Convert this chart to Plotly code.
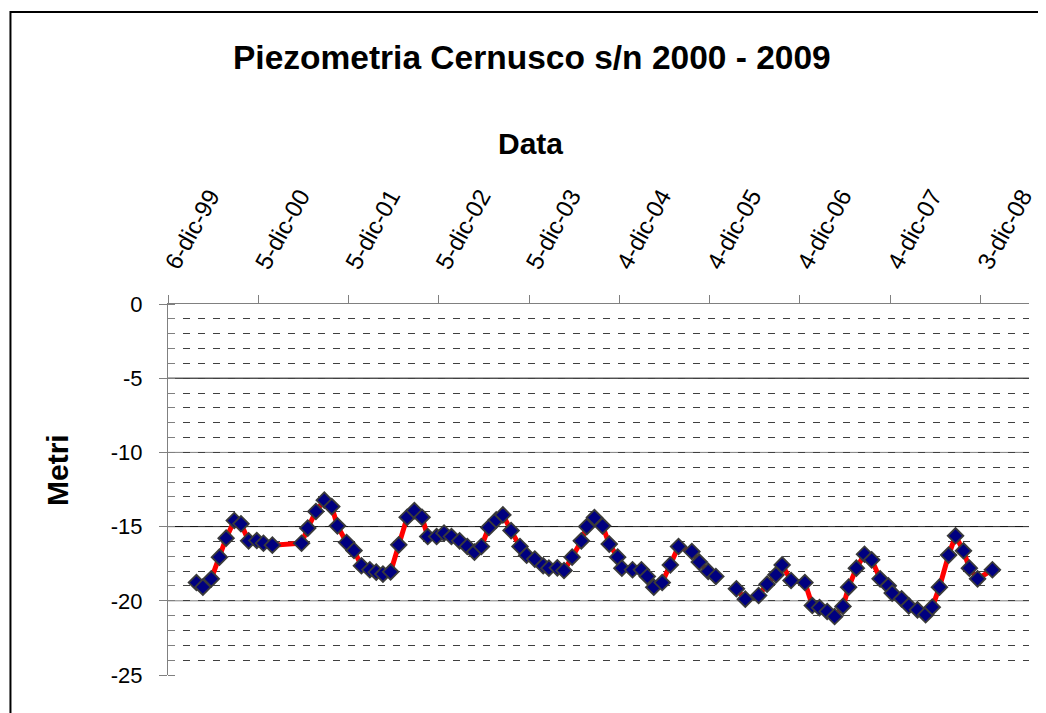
import plotly.graph_objects as go

# ---- data ----
dates = [
    "2000-03-30", "2000-04-25", "2000-05-29", "2000-07-01", "2000-07-28", "2000-08-30",
    "2000-09-26", "2000-10-27", "2000-11-29", "2000-12-26",
    "2001-01-31", "2001-05-29", "2001-06-23", "2001-07-26", "2001-08-29", "2001-09-28",
    "2001-10-21", "2001-11-27", "2001-12-27",
    "2002-01-26", "2002-03-01", "2002-03-27", "2002-04-23", "2002-05-24", "2002-06-26",
    "2002-07-30", "2002-08-28", "2002-09-28", "2002-10-21", "2002-11-26", "2002-12-26",
    "2003-01-25", "2003-02-27", "2003-03-30", "2003-04-28", "2003-05-26", "2003-06-25",
    "2003-07-25", "2003-08-21", "2003-09-23", "2003-10-29", "2003-11-25", "2003-12-28",
    "2004-01-31", "2004-02-23", "2004-03-28", "2004-04-24", "2004-05-27", "2004-07-03",
    "2004-07-25", "2004-08-25", "2004-09-27", "2004-10-24", "2004-11-27", "2004-12-14",
    "2005-01-26", "2005-03-03", "2005-03-27", "2005-04-22", "2005-05-26", "2005-06-28",
    "2005-07-31", "2005-09-23", "2005-10-23", "2005-11-28", "2005-12-29",
    "2006-02-10",
    "2006-03-22", "2006-04-27", "2006-06-20", "2006-07-24", "2006-08-29", "2006-09-23",
    "2006-10-29", "2006-12-24",
    "2007-01-23", "2007-02-21", "2007-03-24", "2007-04-23", "2007-05-27", "2007-06-19",
    "2007-07-20", "2007-08-22", "2007-09-20", "2007-10-24", "2007-11-26", "2007-12-12",
    "2008-01-19", "2008-02-17", "2008-03-23", "2008-04-25", "2008-05-22", "2008-06-20",
    "2008-07-27", "2008-08-24", "2008-09-25", "2008-10-19", "2008-11-21",
    "2009-01-20",
]
metri = [
    -18.77, -19.08, -18.52, -17.06, -15.78, -14.59, -14.81, -15.96, -15.94, -16.12,
    -16.25, -16.12, -15.10, -13.98, -13.22, -13.65, -14.95, -16.07, -16.61,
    -17.64, -17.91, -18.07, -18.20, -18.05, -16.23, -14.37, -13.92, -14.37, -15.67, -15.67, -15.44,
    -15.67, -15.96, -16.34, -16.72, -16.34, -15.06, -14.55, -14.21, -15.27, -16.34, -16.93, -17.19,
    -17.64, -17.80, -17.78, -17.96, -17.06, -15.96, -15.00, -14.39, -14.95, -16.18, -17.06, -17.80,
    -17.91, -17.91, -18.36, -19.08, -18.77, -17.58, -16.34, -16.68, -17.39, -18.02, -18.36,
    None,
    -19.19, -19.89, -19.64, -18.88, -18.25, -17.58, -18.63, -18.77,
    -20.32, -20.46, -20.72, -21.06, -20.38, -19.08, -17.80, -16.86, -17.24, -18.52, -18.99, -19.48,
    -19.87, -20.34, -20.61, -20.94, -20.43, -19.08, -16.92, -15.62, -16.63, -17.80, -18.52,
    -17.91,
]
tick_dates = ["1999-12-06", "2000-12-05", "2001-12-05", "2002-12-05", "2003-12-05",
              "2004-12-04", "2005-12-04", "2006-12-04", "2007-12-04", "2008-12-03"]
tick_labels = ["6-dic-99", "5-dic-00", "5-dic-01", "5-dic-02", "5-dic-03",
               "4-dic-04", "4-dic-05", "4-dic-06", "4-dic-07", "3-dic-08"]
y_ticks = [0, -5, -10, -15, -20, -25]
y_tick_labels = ["0", "-5", "-10", "-15", "-20", "-25"]
major_grid = [-5, -10, -15, -20]
major_grid_colors = ["#000000", "#808080", "#000000", "#808080"]

title_text = "Piezometria Cernusco s/n 2000 - 2009"
x_title = "Data"
y_title = "Metri"

# ---- layout geometry (page pixels; page body has an 8px margin) ----
OFF = 8
W, H = 1046 - OFF, 713 - OFF
L, R, T, B = 168 - OFF, 1037 - OFF, 304 - OFF, 675 - OFF
pw, ph = R - L, B - T


def px(xp):
    return (xp - OFF - L) / pw


def py(yp):
    return (B - (yp - OFF)) / ph


FONT = "Liberation Sans, Arial, sans-serif"

fig = go.Figure()
fig.add_trace(go.Scatter(
    x=dates, y=metri, mode="lines+markers",
    line=dict(color="#ff0000", width=5),
    marker=dict(symbol="diamond", size=12, color="#000080",
                line=dict(color="#3a3a3a", width=1.8)),
    connectgaps=False, showlegend=False, cliponaxis=False,
))

shapes = []
for v, c in zip(major_grid, major_grid_colors):
    shapes.append(dict(type="line", xref="paper", x0=0, x1=1, yref="y", y0=v, y1=v,
                       line=dict(color=c, width=1), layer="below"))
# outer chart border
shapes.append(dict(type="rect", xref="paper", yref="paper",
                   x0=px(9), x1=px(1070), y0=py(740), y1=py(12),
                   line=dict(color="#000000", width=2)))

annotations = [
    dict(text=f"<b>{title_text}</b>", x=px(535), y=py(57), xref="paper", yref="paper",
         showarrow=False, xanchor="center", yanchor="middle",
         font=dict(family=FONT, size=33.5, color="#000")),
    dict(text=f"<b>{x_title}</b>", x=px(534), y=py(143), xref="paper", yref="paper",
         showarrow=False, xanchor="center", yanchor="middle",
         font=dict(family=FONT, size=30, color="#000")),
    dict(text=f"<b>{y_title}</b>", x=px(56), y=py(470), xref="paper", yref="paper",
         showarrow=False, xanchor="center", yanchor="middle", textangle=-90,
         font=dict(family=FONT, size=30, color="#000")),
]

fig.update_layout(
    width=W, height=H,
    margin=dict(l=L, r=W - R, t=T, b=H - B, pad=0),
    paper_bgcolor="white", plot_bgcolor="white",
    shapes=shapes, annotations=annotations,
    font=dict(family=FONT, color="#000"),
    xaxis=dict(
        type="date", side="top",
        range=["1999-12-06", "2009-06-17"],
        tickmode="array", tickvals=tick_dates, ticktext=tick_labels,
        tickangle=-61, tickfont=dict(size=24, family=FONT, color="#000"),
        ticks="outside", ticklen=8, tickcolor="#808080", tickwidth=1,
        showline=True, linecolor="#808080", linewidth=1,
        showgrid=False, zeroline=False, ticklabelstandoff=8,
    ),
    yaxis=dict(
        range=[-25, 0], tickmode="array", tickvals=y_ticks, ticktext=y_tick_labels,
        tickfont=dict(size=22, family=FONT, color="#000"),
        ticks="outside", ticklen=8, tickcolor="#808080", tickwidth=1,
        showline=True, linecolor="#808080", linewidth=1,
        showgrid=False, zeroline=False, ticklabelstandoff=12,
        minor=dict(dtick=1, tick0=0, showgrid=True, gridcolor="#404040", gridwidth=1,
                   griddash="7px,8px", ticks="inside", ticklen=7, tickcolor="#808080"),
    ),
)

fig.write_html("out.html")
